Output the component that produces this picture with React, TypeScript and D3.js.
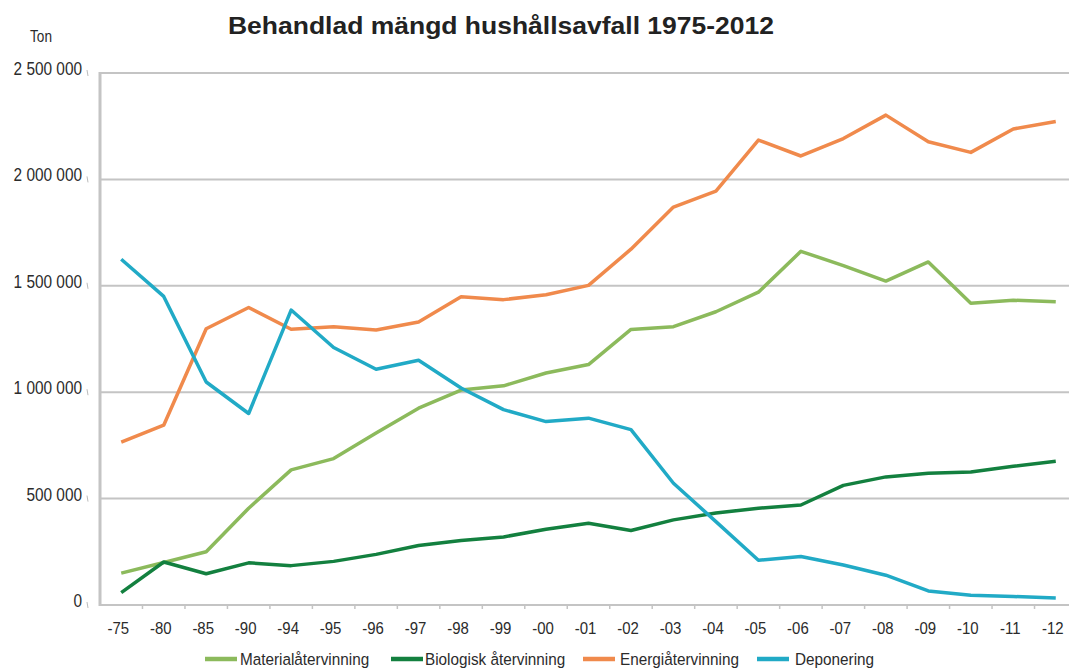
import React from "react";
import * as d3 from "d3";

const categories = ["-75", "-80", "-85", "-90", "-94", "-95", "-96", "-97", "-98", "-99", "-00", "-01", "-02", "-03", "-04", "-05", "-06", "-07", "-08", "-09", "-10", "-11", "-12"];

const material = [150000, 200000, 250000, 455000, 635000, 688000, 808000, 925000, 1010000, 1030000, 1090000, 1130000, 1295000, 1308000, 1378000, 1470000, 1662000, 1595000, 1522000, 1612000, 1418000, 1432000, 1425000];
const biologisk = [58000, 202000, 147000, 198000, 185000, 205000, 238000, 280000, 303000, 320000, 356000, 384000, 350000, 400000, 432000, 455000, 470000, 562000, 602000, 619000, 625000, 652000, 675000];
const energi = [765000, 845000, 1298000, 1398000, 1296000, 1307000, 1292000, 1330000, 1448000, 1435000, 1458000, 1502000, 1672000, 1870000, 1945000, 2185000, 2110000, 2192000, 2302000, 2177000, 2127000, 2237000, 2272000];
const deponering = [1625000, 1450000, 1048000, 900000, 1386000, 1210000, 1108000, 1150000, 1020000, 918000, 862000, 878000, 824000, 572000, 392000, 210000, 228000, 188000, 140000, 66000, 46000, 40000, 33000];

const yTicks = [0, 500000, 1000000, 1500000, 2000000, 2500000];

const series = [
  { name: "Materialåtervinning", values: material, color: "#8cba5c" },
  { name: "Biologisk återvinning", values: biologisk, color: "#13803f" },
  { name: "Energiåtervinning", values: energi, color: "#f08a4c" },
  { name: "Deponering", values: deponering, color: "#21aac6" },
];

const W = 1069;
const H = 670;
const left = 100;
const right = 1077;
const top = 73;
const bottom = 605;

const sans = "'Liberation Sans', Arial, Helvetica, sans-serif";

// condensed look: regular sans squeezed horizontally
function Narrow({ x, y, size, anchor, sx, children }: any) {
  return (
    <text
      transform={`translate(${x},${y}) scale(${sx},1)`}
      textAnchor={anchor}
      fontFamily={sans}
      fontSize={size}
      fill="#2b2b2b"
    >
      {children}
    </text>
  );
}

export default function App() {
  const x = d3.scaleBand<string>().domain(categories).range([left, right]).padding(0);
  const y = d3.scaleLinear().domain([0, 2500000]).range([bottom, top]);
  const cx = (c: string) => (x(c) as number) + x.bandwidth() / 2;

  const line = d3
    .line<number>()
    .x((d, i) => cx(categories[i]))
    .y((d) => y(d));

  const fmt = (v: number) => d3.format(",")(v).replace(/,/g, " ");

  // legend layout: swatch start, text start
  const legendPos = [
    { sw: 205, tx: 240 },
    { sw: 391, tx: 425 },
    { sw: 583, tx: 620 },
    { sw: 757, tx: 795 },
  ];

  return (
    <svg width={W} height={H} style={{ position: "absolute", left: 0, top: 0, background: "#fff" }}>
      <text
        x={228}
        y={34}
        fontFamily={sans}
        fontWeight="bold"
        fontSize={23.5}
        fill="#222"
        textLength={546}
        lengthAdjust="spacingAndGlyphs"
      >
        Behandlad mängd hushållsavfall 1975-2012
      </text>
      <Narrow x={41} y={42} size={16} anchor="middle" sx={0.85}>
        Ton
      </Narrow>

      {yTicks.map((t) => (
        <g key={t}>
          <line x1={left} x2={W} y1={y(t)} y2={y(t)} stroke="#c4c4c4" strokeWidth={2} />
          <line x1={87} x2={88} y1={y(t) - 3} y2={y(t) + 3} stroke="#bbb" strokeWidth={1} />
          <Narrow x={82} y={y(t) + 2} size={17.5} anchor="end" sx={0.88}>
            {fmt(t)}
          </Narrow>
        </g>
      ))}
      <line x1={left} x2={left} y1={top - 1} y2={bottom + 1} stroke="#c4c4c4" strokeWidth={3} />

      {categories.map((c, i) => (
        <g key={c}>
          {i > 0 && (
            <line x1={x(c) as number} x2={x(c) as number} y1={bottom} y2={bottom + 4} stroke="#c4c4c4" strokeWidth={1.5} />
          )}
          <Narrow x={cx(c) - 3} y={634} size={17} anchor="middle" sx={0.88}>
            {c}
          </Narrow>
        </g>
      ))}

      {series.map((s) => (
        <path key={s.name} d={line(s.values) || ""} fill="none" stroke={s.color} strokeWidth={3.5} strokeLinejoin="round" />
      ))}

      {series.map((s, i) => (
        <g key={s.name}>
          <line x1={legendPos[i].sw} x2={legendPos[i].sw + 32} y1={659} y2={659} stroke={s.color} strokeWidth={4.5} />
          <Narrow x={legendPos[i].tx} y={665} size={17} anchor="start" sx={0.9}>
            {s.name}
          </Narrow>
        </g>
      ))}
    </svg>
  );
}
